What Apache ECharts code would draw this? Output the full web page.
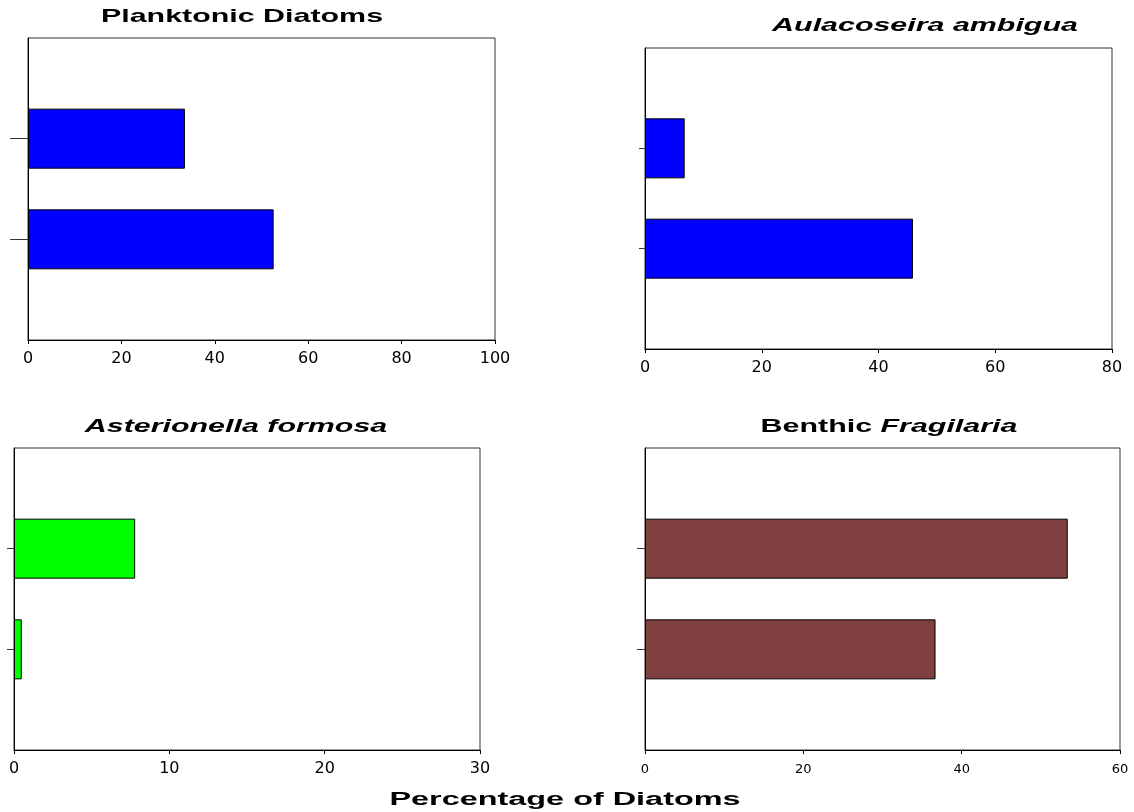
<!DOCTYPE html>
<html>
<head>
<meta charset="utf-8">
<script src="https://cdn.jsdelivr.net/npm/echarts@6/dist/echarts.min.js"></script>
<style>
  html, body { margin: 0; padding: 0; background: #fff; }
  #chart { width: 1134px; height: 812px; }
</style>
</head>
<body>
<div id="chart"></div>
<script>
// ---- data ----
const samples = ['', 'Sample 1', 'Sample 2', ''];   // bottom-to-top; ends are empty padding slots
const planktonicDiatoms   = [52.6, 33.6];
const aulacoseiraAmbigua  = [45.9, 6.8];
const asterionellaFormosa = [0.5, 7.8];
const benthicFragilaria   = [36.7, 53.4];
const xMax      = [100, 80, 30, 60];
const xInterval = [20, 20, 10, 20];
const panelTitles = ['Planktonic Diatoms', '{i|Aulacoseira ambigua}', '{i|Asterionella formosa}', 'Benthic {i|Fragilaria}'];
const axisTitle = 'Percentage of Diatoms';

const panelValues = [planktonicDiatoms, aulacoseiraAmbigua, asterionellaFormosa, benthicFragilaria];
const panelColors = ['#0000FF', '#0000FF', '#00FF00', '#804040'];

// ---- layout ----
const grids = [
  { left: 28,  top: 38,  width: 467, height: 302 },
  { left: 645, top: 48,  width: 467, height: 301 },
  { left: 14,  top: 448, width: 466, height: 302 },
  { left: 645, top: 448, width: 475, height: 302 }
];
const yTickLen = [18, 6, 7, 8];
const xLabelSize = [16, 16, 16, 13];
const xLabelMargin = [11, 11, 11, 13];
const titlePos = [
  { x: 242, y: 17, s: 1.6 },
  { x: 925, y: 26, s: 1.6 },
  { x: 236, y: 427, s: 1.6 },
  { x: 889, y: 427, s: 1.6 }
];

const chart = echarts.init(document.getElementById('chart'), null, { renderer: 'canvas' });

const option = {
  animation: false,
  backgroundColor: '#ffffff',
  grid: grids.map(g => Object.assign({ show: true, borderColor: '#333', borderWidth: 1, backgroundColor: 'transparent', containLabel: false }, g)),
  xAxis: grids.map((g, i) => ({
    type: 'value',
    gridIndex: i,
    min: 0,
    max: xMax[i],
    interval: xInterval[i],
    splitLine: { show: false },
    axisLine: { show: true, onZero: false, lineStyle: { color: '#000', width: 1 } },
    axisTick: { show: true, length: 4, lineStyle: { color: '#000' } },
    axisLabel: { color: '#000', fontSize: xLabelSize[i], fontFamily: 'DejaVu Sans', margin: xLabelMargin[i] }
  })),
  yAxis: grids.map((g, i) => ({
    type: 'category',
    gridIndex: i,
    data: samples,
    boundaryGap: false,
    axisLine: { show: true, lineStyle: { color: '#000', width: 1 } },
    axisTick: {
      show: true,
      length: yTickLen[i],
      interval: (idx) => idx === 1 || idx === 2,
      lineStyle: { color: '#333' }
    },
    axisLabel: { show: false },
    splitLine: { show: false }
  })),
  series: panelValues.map((vals, i) => ({
    type: 'bar',
    xAxisIndex: i,
    yAxisIndex: i,
    barWidth: 60,
    data: ['-', vals[0], vals[1], '-'],
    itemStyle: { color: panelColors[i], borderColor: '#000', borderWidth: 1 }
  })),
  graphic: titlePos.map((p, i) => ({
    type: 'text',
    x: p.x,
    y: p.y,
    scaleX: p.s,
    style: {
      text: panelTitles[i],
      fontFamily: 'Liberation Sans',
      fontSize: 19,
      fontWeight: 'bold',
      fill: '#000',
      align: 'center',
      verticalAlign: 'middle',
      textAlign: 'center',
      textVerticalAlign: 'middle',
      rich: { i: { fontFamily: 'Liberation Sans', fontSize: 19, fontWeight: 'bold', fontStyle: 'italic', fill: '#000' } }
    }
  })).concat([{
    type: 'text',
    x: 565,
    y: 800,
    scaleX: 1.8,
    style: {
      text: axisTitle,
      fontFamily: 'Liberation Sans',
      fontSize: 18,
      fontWeight: 'bold',
      fill: '#000',
      align: 'center',
      verticalAlign: 'middle',
      textAlign: 'center',
      textVerticalAlign: 'middle'
    }
  }])
};

chart.setOption(option);
</script>
</body>
</html>
